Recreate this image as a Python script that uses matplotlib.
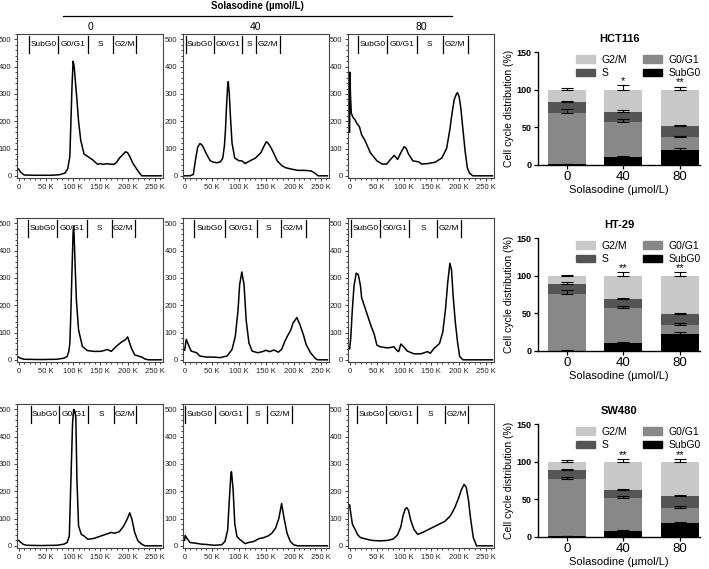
import matplotlib
matplotlib.use("Agg")
import matplotlib.pyplot as plt
from matplotlib.lines import Line2D
from matplotlib.patches import Patch
from matplotlib.ticker import MultipleLocator, FuncFormatter
import numpy as np

plt.rcParams['font.family'] = ['Liberation Sans', 'DejaVu Sans']

doses = ['0', '40', '80']
phases = ['SubG0', 'G0/G1', 'S', 'G2/M']
cell_lines = ['HCT116', 'HT-29', 'SW480']

# DNA histograms: channel (K) and cell count
hct116_0_k = [0, 3, 10, 30, 60, 75, 85, 90, 94, 96, 98, 100, 102, 104, 107, 110, 114, 120, 126, 135, 145, 150, 155, 160, 175, 180, 185, 190, 196, 200, 204, 210, 215, 220, 226, 240, 262]
hct116_0_n = [25, 15, 3, 2, 2, 4, 10, 25, 71, 200, 330, 420, 400, 350, 280, 200, 130, 80, 72, 60, 42, 45, 42, 44, 42, 50, 65, 75, 88, 85, 71, 45, 30, 15, 0, 0, 0]
hct116_40_k = [0, 10, 16, 20, 24, 28, 31, 35, 40, 47, 53, 60, 66, 70, 73, 75, 77, 79, 80, 82, 84, 87, 92, 100, 105, 111, 120, 130, 140, 146, 150, 153, 158, 163, 170, 178, 185, 195, 208, 220, 232, 239, 245, 262]
hct116_40_n = [0, 0, 5, 60, 105, 118, 115, 102, 80, 55, 50, 48, 52, 65, 110, 170, 260, 330, 345, 300, 220, 120, 65, 55, 55, 45, 55, 65, 85, 110, 125, 120, 105, 85, 55, 38, 30, 25, 20, 20, 18, 10, 0, 0]
hct116_80_k = [0, 0.5, 1.5, 3, 6, 10, 14, 18, 22, 28, 38, 50, 60, 68, 75, 82, 88, 94, 100, 104, 108, 116, 127, 132, 144, 157, 169, 178, 184, 188, 192, 196, 198, 201, 204, 208, 212, 216, 220, 226, 262]
hct116_80_n = [160, 380, 300, 230, 215, 205, 190, 180, 150, 130, 85, 55, 43, 43, 60, 75, 60, 85, 107, 100, 80, 55, 51, 43, 45, 50, 65, 100, 170, 230, 280, 300, 305, 290, 250, 170, 90, 30, 10, 0, 0]

ht29_0_k = [0, 3, 10, 40, 70, 83, 89, 92, 94, 96, 98, 100, 101, 102, 104, 106, 110, 117, 126, 138, 151, 160, 163, 170, 179, 188, 196, 200, 207, 213, 220, 226, 232, 238, 262]
ht29_0_n = [10, 6, 2, 1, 2, 6, 12, 30, 60, 180, 330, 470, 490, 450, 330, 220, 110, 49, 34, 31, 31, 36, 38, 31, 49, 64, 74, 84, 43, 18, 14, 10, 3, 0, 0]
ht29_40_k = [0, 3, 8, 12, 22, 28, 40, 53, 65, 78, 87, 93, 98, 101, 105, 109, 113, 118, 124, 134, 143, 149, 156, 164, 172, 178, 184, 190, 195, 199, 206, 212, 218, 223, 231, 240, 244, 262]
ht29_40_n = [35, 75, 50, 32, 26, 14, 10, 10, 8, 14, 38, 86, 181, 276, 322, 276, 145, 62, 32, 26, 30, 35, 30, 36, 28, 38, 68, 92, 110, 135, 155, 127, 92, 56, 26, 5, 0, 0]
ht29_80_k = [0, 2, 5, 8, 12, 16, 20, 22, 28, 34, 40, 45, 50, 56, 68, 75, 81, 87, 90, 94, 99, 106, 118, 131, 143, 148, 155, 165, 171, 176, 180, 184, 187, 190, 194, 198, 202, 208, 262]
ht29_80_n = [40, 78, 186, 270, 318, 312, 270, 228, 192, 156, 120, 95, 54, 48, 44, 45, 48, 34, 30, 58, 48, 32, 22, 22, 30, 24, 42, 60, 102, 186, 282, 354, 330, 234, 138, 66, 12, 0, 0]

sw480_0_k = [0, 3, 8, 14, 40, 70, 83, 89, 93, 96, 99, 101, 103, 105, 107, 110, 115, 120, 127, 138, 151, 157, 170, 176, 185, 193, 199, 204, 208, 213, 219, 226, 232, 262]
sw480_0_n = [20, 14, 6, 2, 1, 2, 6, 12, 36, 243, 450, 500, 495, 470, 243, 73, 42, 36, 24, 27, 36, 40, 49, 46, 52, 73, 97, 121, 97, 49, 18, 6, 0, 0]
sw480_40_k = [0, 1, 4, 10, 19, 31, 40, 49, 56, 68, 74, 79, 82, 85, 86, 89, 92, 96, 102, 111, 117, 127, 136, 145, 154, 160, 167, 173, 178, 182, 188, 194, 200, 207, 262]
sw480_40_n = [20, 38, 28, 12, 10, 6, 5, 3, 2, 4, 16, 58, 168, 265, 272, 205, 82, 34, 22, 8, 12, 16, 26, 30, 37, 46, 65, 101, 155, 107, 46, 16, 4, 0, 0]
sw480_80_k = [0, 2, 5, 10, 15, 20, 30, 40, 55, 70, 80, 88, 94, 98, 102, 105, 108, 112, 118, 125, 135, 145, 155, 165, 175, 185, 193, 200, 205, 210, 214, 218, 222, 227, 233, 262]
sw480_80_n = [150, 120, 80, 60, 40, 30, 25, 20, 18, 20, 25, 40, 70, 110, 135, 140, 130, 95, 60, 42, 50, 60, 70, 80, 90, 110, 140, 175, 205, 225, 215, 170, 100, 30, 0, 0]

# gate edges (K) shown at the top of each histogram
hct116_gates = [[19, 73, 127, 173, 216], [2, 54, 106, 131, 175], [15, 69, 123, 171, 217]]
ht29_gates = [[17, 71, 125, 171, 213], [17, 75, 132, 177, 222], [2, 56, 109, 160, 204]]
sw480_gates = [[22, 75, 128, 175, 216], [0, 56, 114, 152, 197], [13, 67, 123, 175, 218]]

# stacked bars (%), upper error and significance marks
hct116_subg0 = [1, 10, 20]
hct116_g0g1 = [68, 47, 17]
hct116_s = [15, 14, 15]
hct116_g2m = [16, 29, 48]
hct116_err = [[0.5, 2, 3], [5, 4, 2], [1.5, 1.5, 1.5], [2, 6, 4]]
hct116_sig = ['', '*', '**']

ht29_subg0 = [0.5, 11, 22.7]
ht29_g0g1 = [75, 45.5, 12]
ht29_s = [13.5, 12.5, 14.7]
ht29_g2m = [11, 31, 50.6]
ht29_err = [[0.5, 1.5, 2.5], [6, 3.5, 2], [2, 1.3, 1.6], [1.5, 4.6, 5]]
ht29_sig = ['', '**', '**']

sw480_subg0 = [1, 8, 18]
sw480_g0g1 = [76, 43.6, 21]
sw480_s = [12, 11.4, 15.7]
sw480_g2m = [11, 37, 45.3]
sw480_err = [[0.5, 1.3, 1.8], [2, 3.4, 2.4], [1, 0.8, 1], [2, 3.7, 3.3]]
sw480_sig = ['', '**', '**']

phase_colors = ['#000000', '#888888', '#555555', '#c8c8c8']


def k_fmt(v, pos):
    return '0' if v == 0 else '%d K' % v


def hist_panel(ax, k, n, gates):
    ax.plot(k, n, color='black', lw=1.1)
    ax.set_xlim(-3, 265)
    ax.set_ylim(-8, 520)
    ax.xaxis.set_major_locator(MultipleLocator(50))
    ax.xaxis.set_minor_locator(MultipleLocator(10))
    ax.yaxis.set_major_locator(MultipleLocator(100))
    ax.yaxis.set_minor_locator(MultipleLocator(20))
    ax.xaxis.set_major_formatter(FuncFormatter(k_fmt))
    ax.tick_params(which='both', direction='out', labelsize=5.5, colors='#222222',
                   width=0.6, pad=1.5)
    ax.tick_params(which='major', length=2.5)
    ax.tick_params(which='minor', length=1.5)
    for sp in ax.spines.values():
        sp.set_color('#444444')
        sp.set_linewidth(0.8)
    tr = ax.get_xaxis_transform()
    for g in gates:
        ax.plot([g, g], [0.87, 0.985], transform=tr, color='black', lw=0.9)
    for i, lab in enumerate(phases):
        ax.text((gates[i] + gates[i + 1]) / 2, 0.925, lab, transform=tr,
                ha='center', va='center', fontsize=6)


def bar_panel(ax, title, segs, errs, sig):
    x = np.arange(len(doses))
    bottom = np.zeros(len(doses))
    for vals, e, col in zip(segs, errs, phase_colors):
        vals = np.array(vals)
        ax.bar(x, vals, 0.67, bottom=bottom, color=col, zorder=2)
        top = bottom + vals
        ax.errorbar(x, top, yerr=[np.zeros(len(doses)), e], fmt='none', ecolor='black',
                    elinewidth=0.8, capsize=4.5, capthick=0.8, zorder=3)
        bottom = top
    for xi, s, top, e in zip(x, sig, bottom, errs[-1]):
        if s:
            ax.text(xi, top + e - 1, s, ha='center', va='bottom', fontsize=8)
    ax.set_xlim(-0.51, 2.36)
    ax.set_ylim(0, 150)
    ax.set_yticks([0, 50, 100, 150])
    ax.set_xticks(x)
    ax.set_xticklabels(doses, fontsize=9.5)
    for t in ax.get_yticklabels():
        t.set_fontsize(6.5)
        t.set_fontweight('bold')
    ax.spines['top'].set_visible(False)
    ax.spines['right'].set_visible(False)
    ax.spines['left'].set_linewidth(1.0)
    ax.spines['bottom'].set_linewidth(1.0)
    ax.tick_params(length=3, width=0.9, pad=1.5)
    ax.set_ylabel('Cell cycle distribution (%)', fontsize=7.5, labelpad=2)
    ax.set_xlabel('Solasodine (µmol/L)', fontsize=8, labelpad=1)
    ax.set_title(title, fontsize=8, fontweight='bold', pad=7)
    handles = [Patch(color=phase_colors[3]), Patch(color=phase_colors[2]),
               Patch(color=phase_colors[1]), Patch(color=phase_colors[0])]
    labels = ['G2/M', 'S', 'G0/G1', 'SubG0']
    ax.legend(handles, labels, ncol=2, loc='upper center', bbox_to_anchor=(0.62, 1.06),
              frameon=False, fontsize=7.5, handlelength=1.8, handleheight=0.7,
              columnspacing=1.6, labelspacing=0.35, handletextpad=0.6)


fig = plt.figure(figsize=(7.09, 5.69), dpi=100)
W, H = 709.0, 569.0

col_left = [17, 183, 348]
row_bottom = [178, 362, 548]
hists = [
    [(hct116_0_k, hct116_0_n), (hct116_40_k, hct116_40_n), (hct116_80_k, hct116_80_n)],
    [(ht29_0_k, ht29_0_n), (ht29_40_k, ht29_40_n), (ht29_80_k, ht29_80_n)],
    [(sw480_0_k, sw480_0_n), (sw480_40_k, sw480_40_n), (sw480_80_k, sw480_80_n)],
]
gates_all = [hct116_gates, ht29_gates, sw480_gates]
for r in range(3):
    for c in range(3):
        ax = fig.add_axes([col_left[c] / W, 1 - row_bottom[r] / H, 146 / W, 144 / H])
        k, n = hists[r][c]
        hist_panel(ax, k, n, gates_all[r][c])

bar_bottom = [165, 351, 537]
bar_data = [
    ([hct116_subg0, hct116_g0g1, hct116_s, hct116_g2m], hct116_err, hct116_sig),
    ([ht29_subg0, ht29_g0g1, ht29_s, ht29_g2m], ht29_err, ht29_sig),
    ([sw480_subg0, sw480_g0g1, sw480_s, sw480_g2m], sw480_err, sw480_sig),
]
for r in range(3):
    ax = fig.add_axes([538 / W, 1 - bar_bottom[r] / H, 162 / W, 113 / H])
    segs, errs, sig = bar_data[r]
    bar_panel(ax, cell_lines[r], segs, errs, sig)

# header over the histogram columns
fig.text(257 / W, 1 - 6 / H, 'Solasodine (µmol/L)', ha='center', va='center',
         fontsize=7, fontweight='bold')
fig.add_artist(Line2D([63 / W, 452 / W], [1 - 16 / H, 1 - 16 / H], color='black', lw=0.9))
for c, d in enumerate(doses):
    fig.text((col_left[c] + 73) / W, 1 - 27 / H, d, ha='center', va='center', fontsize=7.5)

fig.savefig('out.png', dpi=100)
